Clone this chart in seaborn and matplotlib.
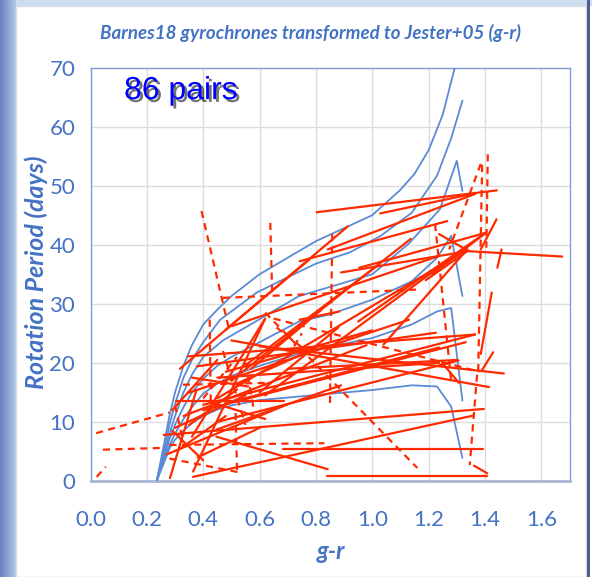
import numpy as np
import pandas as pd
import matplotlib
matplotlib.use("Agg")
import matplotlib.pyplot as plt
import matplotlib.patheffects as pe
from matplotlib.patches import Rectangle
import seaborn as sns

# ---- gyrochrones (g-r, rotation period in days) ----
gyro_A_x = [0.235, 0.26, 0.28, 0.30, 0.33, 0.36, 0.40, 0.45, 0.50, 0.60, 0.70, 0.80, 0.90, 1.00, 1.10, 1.15, 1.20, 1.25, 1.293]
gyro_A_y = [0, 6, 11, 15, 19.5, 23, 26.5, 29, 31.3, 35, 37.8, 40.6, 42.8, 45, 49.3, 52, 56, 62, 70]
gyro_B_x = [0.235, 0.26, 0.28, 0.30, 0.33, 0.36, 0.40, 0.46, 0.59, 0.70, 0.80, 0.92, 1.03, 1.14, 1.23, 1.28, 1.32]
gyro_B_y = [0, 5, 9.5, 13, 17.5, 20.5, 23.5, 27.3, 31.9, 34.5, 36.8, 38.7, 41.5, 45.4, 51.7, 58, 64.4]
gyro_C_x = [0.235, 0.26, 0.28, 0.30, 0.33, 0.36, 0.40, 0.47, 0.55, 0.74, 0.86, 1.00, 1.13, 1.24, 1.30, 1.32]
gyro_C_y = [0, 4.5, 8, 11, 15, 18, 21, 23.8, 26, 31.3, 33, 35, 40.2, 46, 54.2, 49.1]
gyro_D_x = [0.235, 0.26, 0.28, 0.30, 0.33, 0.36, 0.40, 0.45, 0.50, 0.60, 0.74, 0.85, 1.00, 1.14, 1.23, 1.28, 1.32]
gyro_D_y = [0, 4, 7, 9.5, 12.5, 15, 17.3, 19.5, 21, 23.5, 27, 28.2, 30.7, 33.8, 37.8, 41.5, 31.3]
gyro_E_x = [0.235, 0.26, 0.28, 0.30, 0.33, 0.36, 0.40, 0.45, 0.50, 0.60, 0.77, 1.00, 1.14, 1.23, 1.28, 1.32]
gyro_E_y = [0, 3.5, 6, 8, 10.5, 12.5, 14.8, 16.5, 17.8, 19.5, 22, 24.2, 26.5, 28.7, 29.3, 13.6]
gyro_F_x = [0.235, 0.26, 0.28, 0.30, 0.33, 0.36, 0.40, 0.45, 0.50, 0.60, 0.74, 0.81, 1.00, 1.14, 1.23, 1.28, 1.32]
gyro_F_y = [0, 3, 5.5, 7, 8.5, 9.8, 11, 12.1, 12.8, 13.7, 14.3, 14.6, 15.4, 16.2, 16.0, 12.6, 3.9]

# ---- 86 pairs: (g-r, P) of each member, and whether the link is dashed ----
pair_x1 = [0.803, 1.028, 0.842, 0.742, 1.385, 1.390, 1.410, 1.372, 1.361, 1.237,
           1.343, 1.459, 1.441, 0.954, 1.213, 0.620, 0.950, 0.889, 1.190, 0.450,
           1.040, 1.223, 0.858, 0.470, 0.620, 0.840, 0.683, 0.044, 0.280, 0.364,
           0.260, 0.447, 0.500, 0.600, 0.700, 0.346, 0.400, 0.377, 0.450, 0.650,
           1.429, 1.248, 0.020, 0.022, 0.423, 0.328, 0.280, 0.515, 0.282, 0.305,
           0.317, 0.394, 0.638, 0.480, 0.500, 0.550, 0.500, 0.742, 0.360, 0.364,
           1.424, 0.447, 0.400, 0.450, 0.500, 0.345, 0.300, 0.330, 0.270, 0.380,
           0.290, 0.400, 0.470, 0.550, 0.570, 0.360, 0.450, 0.290, 0.320, 0.600,
           0.520, 0.700, 0.660, 0.300, 0.350, 0.480]
pair_y1 = [45.5, 45.3, 39.2, 37.2, 53.7, 53.5, 55.3, 18.0, 2.6, 41.8,
           38.9, 39.2, 44.3, 36.1, 35.0, 14.5, 27.0, 35.3, 34.0, 14.0,
           23.1, 43.5, 41.8, 31.0, 28.5, 0.85, 5.4, 5.3, 6.1, 0.7,
           7.8, 7.5, 23.8, 22.8, 19.0, 21.1, 12.0, 19.4, 10.0, 27.5,
           21.8, 20.0, 8.1, 0.7, 27.3, 16.3, 3.8, 11.5, 0.5, 13.5,
           19.0, 45.7, 43.7, 25.6, 26.2, 19.6, 17.0, 27.3, 7.5, 1.6,
           31.9, 8.7, 12.9, 17.5, 13.4, 14.9, 9.0, 11.0, 4.5, 4.0,
           12.0, 14.0, 22.0, 20.0, 19.0, 17.5, 13.0, 8.5, 5.5, 15.0,
           16.5, 21.0, 26.0, 12.8, 9.5, 18.5]
pair_x2 = [1.442, 1.365, 1.365, 1.266, 1.273, 1.376, 1.405, 1.346, 1.408, 1.343,
           1.674, 1.444, 1.385, 1.402, 1.402, 1.402, 1.402, 1.337, 1.337, 1.337,
           1.337, 1.280, 0.850, 1.155, 1.160, 1.408, 1.394, 0.250, 0.830, 1.361,
           1.396, 0.842, 1.414, 1.467, 1.302, 1.365, 1.332, 1.226, 1.306, 1.380,
           1.390, 1.308, 0.280, 0.054, 0.427, 0.620, 0.535, 0.520, 0.376, 0.688,
           0.913, 0.490, 0.645, 0.777, 1.237, 1.025, 1.137, 0.883, 0.620, 0.618,
           1.385, 0.889, 1.365, 1.237, 1.237, 1.130, 0.550, 0.980, 0.700, 0.600,
           0.450, 0.520, 0.550, 0.580, 0.820, 0.560, 0.620, 0.400, 0.480, 0.880,
           0.800, 0.750, 0.780, 0.330, 0.520, 1.000]
pair_y2 = [49.2, 48.7, 48.6, 44.0, 39.2, 18.3, 39.5, 2.7, 1.3, 38.9,
           38.0, 36.1, 39.2, 42.0, 42.0, 42.0, 42.0, 38.9, 38.9, 39.2,
           39.2, 17.0, 13.2, 32.4, 2.2, 0.85, 5.4, 5.6, 6.4, 11.1,
           12.2, 2.0, 15.9, 18.2, 20.5, 24.8, 23.5, 25.1, 20.4, 18.5,
           18.8, 16.6, 11.6, 2.4, 12.6, 16.6, 1.4, 1.8, 15.4, 13.5,
           43.1, 26.0, 31.5, 37.5, 38.1, 36.7, 41.0, 28.7, 27.5, 27.3,
           21.5, 16.2, 24.8, 20.0, 22.6, 27.3, 14.5, 23.0, 13.0, 9.0,
           20.5, 21.0, 9.5, 12.0, 29.0, 16.0, 10.5, 3.5, 11.0, 26.0,
           22.5, 25.0, 21.5, 6.5, 15.5, 25.5]
pair_dashed = [0, 0, 0, 0, 1, 1, 1, 1, 0, 0,
               0, 0, 0, 0, 0, 0, 0, 0, 0, 0,
               0, 1, 1, 1, 1, 0, 0, 1, 1, 0,
               0, 0, 0, 0, 0, 0, 0, 0, 0, 1,
               0, 0, 1, 1, 1, 1, 1, 1, 0, 0,
               0, 1, 1, 0, 0, 0, 0, 0, 0, 0,
               0, 0, 0, 0, 0, 0, 0, 0, 0, 0,
               0, 1, 1, 1, 0, 0, 0, 0, 0, 0,
               0, 1, 1, 1, 0, 0]

x_ticks = [0.0, 0.2, 0.4, 0.6, 0.8, 1.0, 1.2, 1.4, 1.6]
y_ticks = [0, 10, 20, 30, 40, 50, 60, 70]

BLUE_LINE = "#5B8BD4"
RED = "#FF2A00"
TEXT_BLUE = "#4472C4"

# ---- tidy tables for seaborn ----
gyro_rows = []
for name, gx, gy in [("A", gyro_A_x, gyro_A_y), ("B", gyro_B_x, gyro_B_y),
                     ("C", gyro_C_x, gyro_C_y), ("D", gyro_D_x, gyro_D_y),
                     ("E", gyro_E_x, gyro_E_y), ("F", gyro_F_x, gyro_F_y)]:
    for i, (a, b) in enumerate(zip(gx, gy)):
        gyro_rows.append({"curve": name, "order": i, "g_r": a, "period": b})
gyro_df = pd.DataFrame(gyro_rows)

pair_rows = []
for k in range(len(pair_x1)):
    kind = "dashed" if pair_dashed[k] else "solid"
    pair_rows.append({"pair": k, "order": 0, "g_r": pair_x1[k], "period": pair_y1[k], "kind": kind})
    pair_rows.append({"pair": k, "order": 1, "g_r": pair_x2[k], "period": pair_y2[k], "kind": kind})
pair_df = pd.DataFrame(pair_rows)

sns.set_theme(style="white")
plt.rcParams["font.family"] = ["Lato", "Liberation Sans", "DejaVu Sans"]

fig = plt.figure(figsize=(5.92, 5.77), dpi=100)

# slide backdrop: blue band at the left edge, pale band on top, white panel
bg = fig.add_axes([0, 0, 1, 1], zorder=-10)
w, h = 592, 577
grad = np.ones((h, w, 3))
col_light = np.array([0.80, 0.87, 0.93])
col_dark = np.array([0.42, 0.50, 0.76])
for xi in range(16):
    t = xi / 15.0
    grad[:, xi, :] = col_dark * (1 - t) + np.array([0.68, 0.79, 0.89]) * t
grad[:6, 16:, :] = col_light
bg.imshow(grad, aspect="auto", extent=[0, 1, 0, 1], origin="upper")
bg.set_axis_off()
fig.patches.append(Rectangle((15.5 / w, 0), 570 / w, 1 - 6 / h, transform=fig.transFigure,
                             facecolor="white", edgecolor="#D8DCE4", lw=1.0, zorder=-5))
fig.patches.append(Rectangle((587 / w, 0), 2.5 / w, 1, transform=fig.transFigure,
                             facecolor="#4E5C94", edgecolor="none", zorder=-4))

ax = fig.add_axes([90.5 / w, 1 - 481 / h, (569.5 - 90.5) / w, (481 - 67.5) / h])
ax.set_facecolor("white")

sns.lineplot(data=gyro_df, x="g_r", y="period", units="curve", estimator=None,
             sort=False, color=BLUE_LINE, lw=1.3, ax=ax, legend=False, zorder=3)
sns.lineplot(data=pair_df, x="g_r", y="period", units="pair", estimator=None,
             sort=False, style="kind", dashes={"solid": "", "dashed": (3.2, 2.4)},
             style_order=["solid", "dashed"], color=RED, lw=1.6, ax=ax,
             legend=False, zorder=4)

ax.set_xlim(0, 1.7)
ax.set_ylim(0, 70)
ax.set_xticks(x_ticks)
ax.set_xticklabels([f"{v:.1f}" for v in x_ticks])
ax.set_yticks(y_ticks)
ax.set_yticklabels([str(v) for v in y_ticks])
ax.grid(True, color="#DCDCDC", lw=1.0, zorder=0)
ax.set_axisbelow(True)
ax.tick_params(axis="both", length=0, labelsize=16, colors=TEXT_BLUE)
ax.tick_params(axis="x", pad=21)
ax.tick_params(axis="y", pad=11)
for side in ["left", "top", "right"]:
    ax.spines[side].set_color("#7E9ED6")
    ax.spines[side].set_linewidth(1.0)
ax.spines["bottom"].set_color("#A8B6D2")
ax.spines["bottom"].set_linewidth(2.0)

ax.set_xlabel("g-r", fontsize=17, fontweight="bold", fontstyle="italic", color=TEXT_BLUE)
ax.xaxis.set_label_coords(0.503, -0.143)
ax.set_ylabel("Rotation Period (days)", fontsize=18, fontweight="bold",
              fontstyle="italic", color=TEXT_BLUE)
ax.yaxis.set_label_coords(-0.089, 0.505)

fig.text(311 / w, 1 - 33 / h, "Barnes18 gyrochrones transformed to Jester+05 (g-r)",
         ha="center", va="center", fontsize=13.5, fontweight="bold", fontstyle="italic",
         color=TEXT_BLUE)

ax.text(0.119, 66.0, "86 pairs", fontsize=23, color="#0000FF",
        family=["Liberation Sans", "DejaVu Sans"], ha="left", va="center", zorder=6,
        path_effects=[pe.withSimplePatchShadow(offset=(2, -2), shadow_rgbFace="black", alpha=0.55)])

fig.savefig("out.png", dpi=100)
